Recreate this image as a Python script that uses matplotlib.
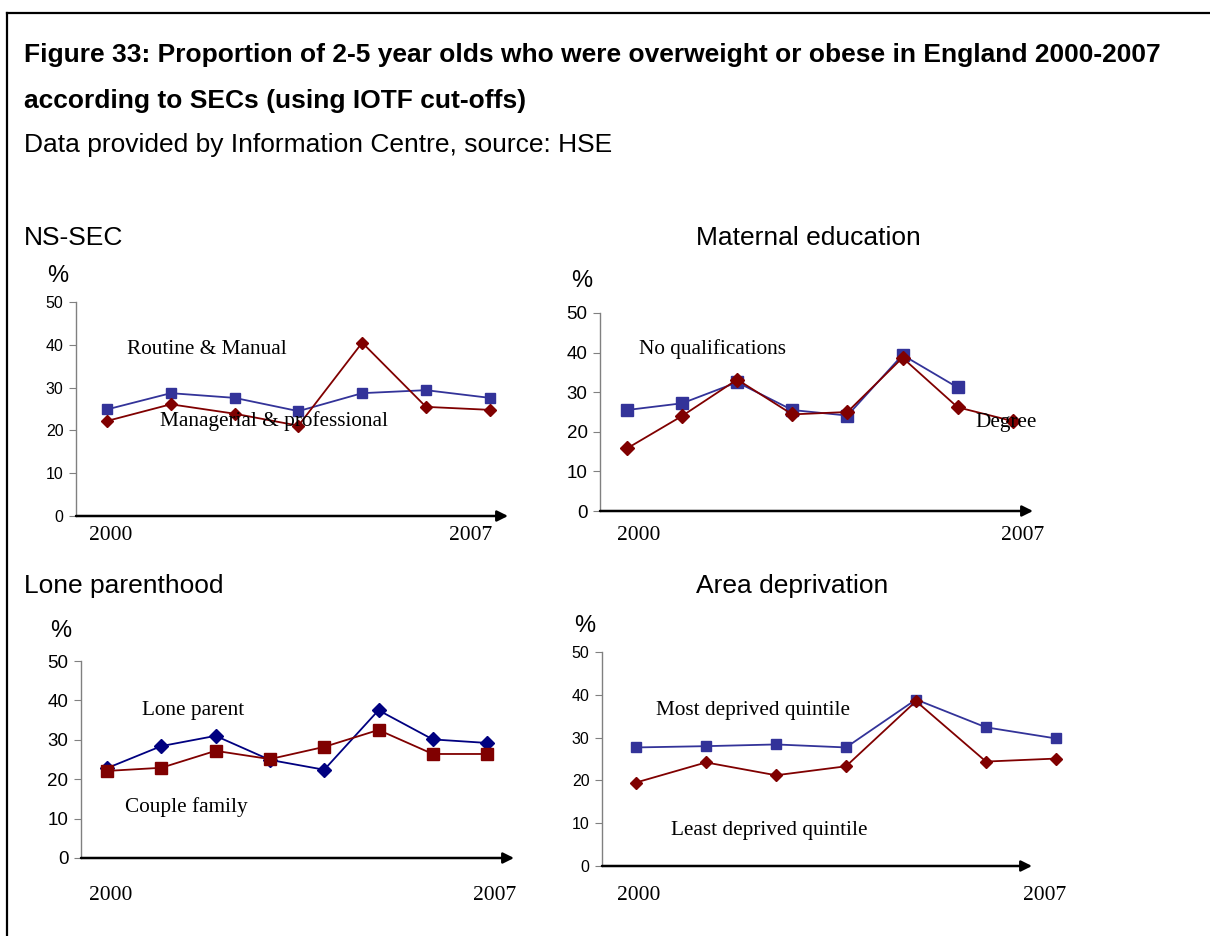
import matplotlib
matplotlib.use("Agg")
import matplotlib.pyplot as plt
from matplotlib.lines import Line2D

# data
nssec_manual = [24.9, 28.7, 27.6, 24.5, 28.7, 29.4, 27.6]
nssec_managerial = [22.2, 26.1, 23.9, 21.1, 40.5, 25.5, 24.8]

matedu_noqual = [25.5, 27.2, 32.5, 25.5, 24.1, 39.4, 31.2]
matedu_degree = [15.8, 24.0, 33.2, 24.4, 25.0, 38.7, 26.2, 22.7]

lone_parent = [22.8, 28.4, 31.0, 24.9, 22.4, 37.5, 30.1, 29.2]
couple_family = [22.1, 22.9, 27.2, 25.1, 28.2, 32.5, 26.4, 26.4]

area_most = [27.7, 28.0, 28.4, 27.7, 38.9, 32.4, 29.8]
area_least = [19.5, 24.2, 21.2, 23.3, 38.5, 24.4, 25.1]

yticks = [0, 10, 20, 30, 40, 50]
year_labels = ["2000", "2007"]

W, H = 1210, 936
BLUE = "#333399"
NAVY = "#000080"
RED = "#800000"
SANS = "Liberation Sans"
SERIF = "Liberation Serif"

fig = plt.figure(figsize=(W / 100, H / 100), dpi=100)


def fx(px):
    return px / W


def fy(py):
    return 1 - py / H


def make_panel(x_left, x_right, y_top, y_bottom, p0, step, tick_size):
    ax = fig.add_axes([fx(x_left), fy(y_bottom), fx(x_right - x_left), (y_bottom - y_top) / H])
    ax.set_ylim(0, 50)
    ax.set_xlim((x_left - p0) / step, (x_right - p0) / step)
    ax.set_yticks(yticks)
    ax.set_xticks([])
    for s in ["top", "right", "bottom"]:
        ax.spines[s].set_visible(False)
    ax.spines["left"].set_color("#808080")
    ax.spines["left"].set_linewidth(1)
    ax.tick_params(axis="y", direction="out", length=5, color="#808080",
                   labelsize=tick_size, pad=4)
    for lab in ax.get_yticklabels():
        lab.set_fontfamily(SANS)
    ax.patch.set_alpha(0)
    # x axis with arrow
    ax.annotate("", xy=(1.0, 0), xytext=(0, 0), xycoords="axes fraction",
                arrowprops=dict(arrowstyle="-|>", color="black", lw=1.8,
                                mutation_scale=16, shrinkA=0, shrinkB=0))
    return ax


def series(ax, vals, color, marker, ms):
    ax.plot(range(len(vals)), vals, color=color, lw=1.3, marker=marker,
            markersize=ms, markerfacecolor=color, markeredgecolor=color,
            clip_on=False, zorder=3)


def ftext(x, y, s, **kw):
    fig.text(fx(x), fy(y), s, **kw)


# frame
fig.add_artist(Line2D([fx(7), fx(7)], [fy(13), 0], color="black", lw=1.6))
fig.add_artist(Line2D([fx(7), 1], [fy(13), fy(13)], color="black", lw=1.6))

# titles
ftext(24, 55, "Figure 33: Proportion of 2-5 year olds who were overweight or obese in England 2000-2007",
      fontsize=19, fontweight="bold", family=SANS, va="center")
ftext(24, 101, "according to SECs (using IOTF cut-offs)",
      fontsize=19, fontweight="bold", family=SANS, va="center")
ftext(24, 145, "Data provided by Information Centre, source: HSE",
      fontsize=19, family=SANS, va="center")

# panel 1: NS-SEC
ftext(24, 238, "NS-SEC", fontsize=19, family=SANS, va="center")
ftext(47, 276, "%", fontsize=17, family=SANS, va="center")
ax1 = make_panel(76, 508, 302, 516, 107, 63.8, 11.5)
series(ax1, nssec_manual, BLUE, "s", 7)
series(ax1, nssec_managerial, RED, "D", 6)
ftext(127, 349, "Routine & Manual", fontsize=15.3, family=SERIF, va="center")
ftext(160, 421, "Managerial & professional", fontsize=15.3, family=SERIF, va="center")
ftext(111, 535, year_labels[0], fontsize=15.5, family=SERIF, va="center", ha="center")
ftext(471, 535, year_labels[1], fontsize=15.5, family=SERIF, va="center", ha="center")

# panel 2: Maternal education
ftext(808, 238, "Maternal education", fontsize=19, family=SANS, va="center", ha="center")
ftext(571, 281, "%", fontsize=17, family=SANS, va="center")
ax2 = make_panel(600, 1033, 313, 511, 627, 55.1, 13.5)
series(ax2, matedu_noqual, BLUE, "s", 8)
series(ax2, matedu_degree, RED, "D", 7)
ftext(639, 349, "No qualifications", fontsize=15.3, family=SERIF, va="center")
ftext(975, 422, "Degree", fontsize=15.3, family=SERIF, va="center")
ftext(639, 535, year_labels[0], fontsize=15.5, family=SERIF, va="center", ha="center")
ftext(1023, 535, year_labels[1], fontsize=15.5, family=SERIF, va="center", ha="center")

# panel 3: Lone parenthood
ftext(24, 586, "Lone parenthood", fontsize=19, family=SANS, va="center")
ftext(50, 631, "%", fontsize=17, family=SANS, va="center")
ax3 = make_panel(81, 514, 661, 858, 107, 54.3, 13.5)
series(ax3, lone_parent, NAVY, "D", 7)
series(ax3, couple_family, RED, "s", 8)
ftext(142, 710, "Lone parent", fontsize=15.3, family=SERIF, va="center")
ftext(125, 807, "Couple family", fontsize=15.3, family=SERIF, va="center")
ftext(111, 895, year_labels[0], fontsize=15.5, family=SERIF, va="center", ha="center")
ftext(495, 895, year_labels[1], fontsize=15.5, family=SERIF, va="center", ha="center")

# panel 4: Area deprivation
ftext(792, 586, "Area deprivation", fontsize=19, family=SANS, va="center", ha="center")
ftext(574, 626, "%", fontsize=17, family=SANS, va="center")
ax4 = make_panel(602, 1032, 652, 866, 636, 70, 11.5)
series(ax4, area_most, BLUE, "s", 7)
series(ax4, area_least, RED, "D", 6)
ftext(656, 710, "Most deprived quintile", fontsize=15.3, family=SERIF, va="center")
ftext(671, 830, "Least deprived quintile", fontsize=15.3, family=SERIF, va="center")
ftext(639, 895, year_labels[0], fontsize=15.5, family=SERIF, va="center", ha="center")
ftext(1045, 895, year_labels[1], fontsize=15.5, family=SERIF, va="center", ha="center")

fig.savefig("out.png", dpi=100)
